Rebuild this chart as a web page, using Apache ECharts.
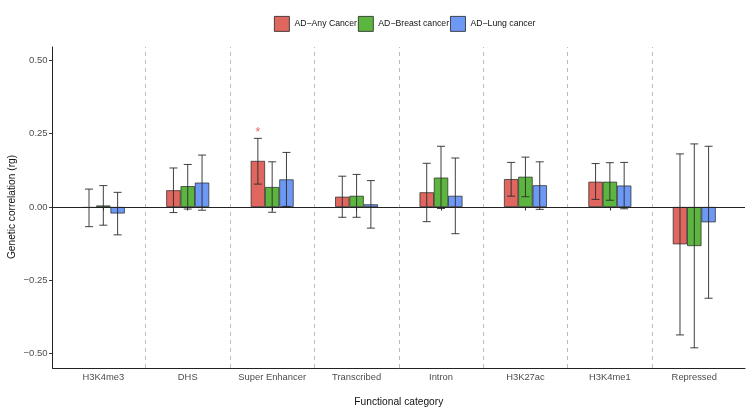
<!DOCTYPE html>
<html>
<head>
<meta charset="utf-8">
<script src="https://cdn.jsdelivr.net/npm/echarts@6/dist/echarts.min.js"></script>
<style>html,body{margin:0;padding:0;background:#fff}#c{width:754px;height:415px}</style>
</head>
<body>
<div id="c"></div>
<script>
const categories = ['H3K4me3','DHS','Super Enhancer','Transcribed','Intron','H3K27ac','H3K4me1','Repressed'];
const seriesNames = ['AD\u2212Any Cancer','AD\u2212Breast cancer','AD\u2212Lung cancer'];
const anyCancer  = [-0.003, 0.057, 0.157, 0.035, 0.050, 0.095, 0.086, -0.127];
const anyLow     = [-0.067,-0.019, 0.078,-0.035,-0.050, 0.037, 0.026, -0.436];
const anyHigh    = [ 0.061, 0.133, 0.234, 0.105, 0.149, 0.152, 0.148,  0.181];
const breast     = [ 0.005, 0.071, 0.068, 0.038, 0.100, 0.103, 0.086, -0.133];
const breastLow  = [-0.062,-0.007,-0.018,-0.035,-0.005, 0.035, 0.023, -0.480];
const breastHigh = [ 0.073, 0.145, 0.154, 0.111, 0.207, 0.170, 0.151,  0.215];
const lung       = [-0.022, 0.083, 0.094, 0.009, 0.038, 0.074, 0.073, -0.052];
const lungLow    = [-0.095,-0.011, 0.002,-0.072,-0.091,-0.008,-0.006, -0.311];
const lungHigh   = [ 0.050, 0.177, 0.186, 0.090, 0.167, 0.154, 0.152,  0.207];
const anyStars    = ['', '', '*', '', '', '', '', ''];
const breastStars = ['', '', '', '', '', '', '', ''];
const lungStars   = ['', '', '', '', '', '', '', ''];
const yTicks = [-0.5, -0.25, 0, 0.25, 0.5];
const separators = [1.5, 2.5, 3.5, 4.5, 5.5, 6.5, 7.5];

const colors = ['#e0675f', '#5cb53e', '#6d98f3'];
const values = [anyCancer, breast, lung];
const lows = [anyLow, breastLow, lungLow];
const highs = [anyHigh, breastHigh, lungHigh];
const stars = [anyStars, breastStars, lungStars];
const BAR_W = 14.3;
const FONT = 'Liberation Sans, Arial, Helvetica, sans-serif';

const errData = [];
for (let k = 0; k < 3; k++) for (let i = 0; i < categories.length; i++) errData.push([i, lows[k][i], highs[k][i], k]);

const chart = echarts.init(document.getElementById('c'), null, {renderer: 'canvas'});
const fmt = v => (v < 0 ? '\u2212' : '') + Math.abs(v).toFixed(2);

const option = {
  animation: false,
  textStyle: {fontFamily: FONT},
  legend: {
    data: seriesNames, top: 11, left: 269, itemWidth: 15, itemHeight: 15, itemGap: 1,
    icon: 'rect',
    itemStyle: {borderWidth: 0.8, borderColor: '#222'},
    textStyle: {fontSize: 8.7, color: '#111', fontFamily: FONT}
  },
  grid: [
    {left: 52.6, right: 9, top: 47, bottom: 47, outerBoundsMode: 'none', containLabel: false},
    {left: 61.1, right: 17.5, top: 60.3, bottom: 61.3, outerBoundsMode: 'none', containLabel: false}
  ],
  xAxis: [
    {gridIndex: 0, type: 'value', min: 0.4, max: 8.6, axisLine: {show: true, onZero: false, lineStyle: {color: '#222', width: 1}},
     axisTick: {show: false}, axisLabel: {show: false}, splitLine: {show: false}},
    {gridIndex: 1, type: 'category', data: categories, offset: 14.3,
     axisLine: {show: false}, axisTick: {show: true, alignWithLabel: true, interval: 0, length: 3.5, lineStyle: {color: '#333'}},
     axisLabel: {color: '#4d4d4d', fontSize: 9.4, margin: 5, interval: 0, hideOverlap: false, fontFamily: FONT},
     name: 'Functional category', nameLocation: 'middle', nameGap: 29, nameMoveOverlap: false,
     nameTextStyle: {fontSize: 10.2, color: '#111', fontFamily: FONT}}
  ],
  yAxis: [
    {gridIndex: 0, type: 'value', min: -0.5487, max: 0.5453, axisLine: {show: true, onZero: false, lineStyle: {color: '#222', width: 1}},
     axisTick: {show: false}, axisLabel: {show: false}, splitLine: {show: false}},
    {gridIndex: 1, type: 'value', min: yTicks[0], max: yTicks[yTicks.length - 1], interval: 0.25, offset: 8.5,
     axisLine: {show: false}, axisTick: {show: true, length: 3.5, lineStyle: {color: '#333'}},
     axisLabel: {color: '#4d4d4d', fontSize: 9.5, margin: 5, formatter: fmt, fontFamily: FONT},
     splitLine: {show: false},
     name: 'Genetic correlation (rg)', nameLocation: 'middle', nameGap: 35, nameMoveOverlap: false,
     nameTextStyle: {fontSize: 10.2, color: '#111', fontFamily: FONT}}
  ],
  series: [
    {type: 'line', xAxisIndex: 0, yAxisIndex: 0, data: [], z: 1,
     markLine: {silent: true, symbol: 'none', label: {show: false}, animation: false,
       data: separators.map(v => ({xAxis: v, lineStyle: {color: '#bdbdbd', type: [4, 4], width: 1}}))
         .concat([{yAxis: 0, lineStyle: {color: '#222', type: 'solid', width: 1}}])}},
    ...seriesNames.map((n, k) => ({
      name: n, type: 'bar', xAxisIndex: 1, yAxisIndex: 1, data: values[k], barWidth: BAR_W, barGap: '0%', z: 2,
      itemStyle: {color: colors[k], borderColor: '#222', borderWidth: 0.7}
    })),
    {type: 'custom', xAxisIndex: 1, yAxisIndex: 1, data: errData, z: 5, silent: true,
     encode: {x: 0, y: [1, 2]},
     renderItem: function (params, api) {
       const i = api.value(0), lo = api.value(1), hi = api.value(2), k = api.value(3);
       const c = api.coord([i, 0]);
       const x = c[0] + (k - 1) * BAR_W;
       const yLo = api.coord([i, lo])[1], yHi = api.coord([i, hi])[1];
       const st = {stroke: '#2a2a2a', lineWidth: 0.9};
       const cap = 4;
       const children = [
         {type: 'line', shape: {x1: x, y1: yLo, x2: x, y2: yHi}, style: st},
         {type: 'line', shape: {x1: x - cap, y1: yLo, x2: x + cap, y2: yLo}, style: st},
         {type: 'line', shape: {x1: x - cap, y1: yHi, x2: x + cap, y2: yHi}, style: st}
       ];
       const s = stars[k][i];
       if (s) children.push({type: 'text', style: {text: s, x: x, y: yHi - 6, fill: colors[0], fontSize: 12, fontFamily: FONT, align: 'center', verticalAlign: 'middle'}});
       return {type: 'group', children: children};
     }}
  ]
};
chart.setOption(option);
</script>
</body>
</html>
